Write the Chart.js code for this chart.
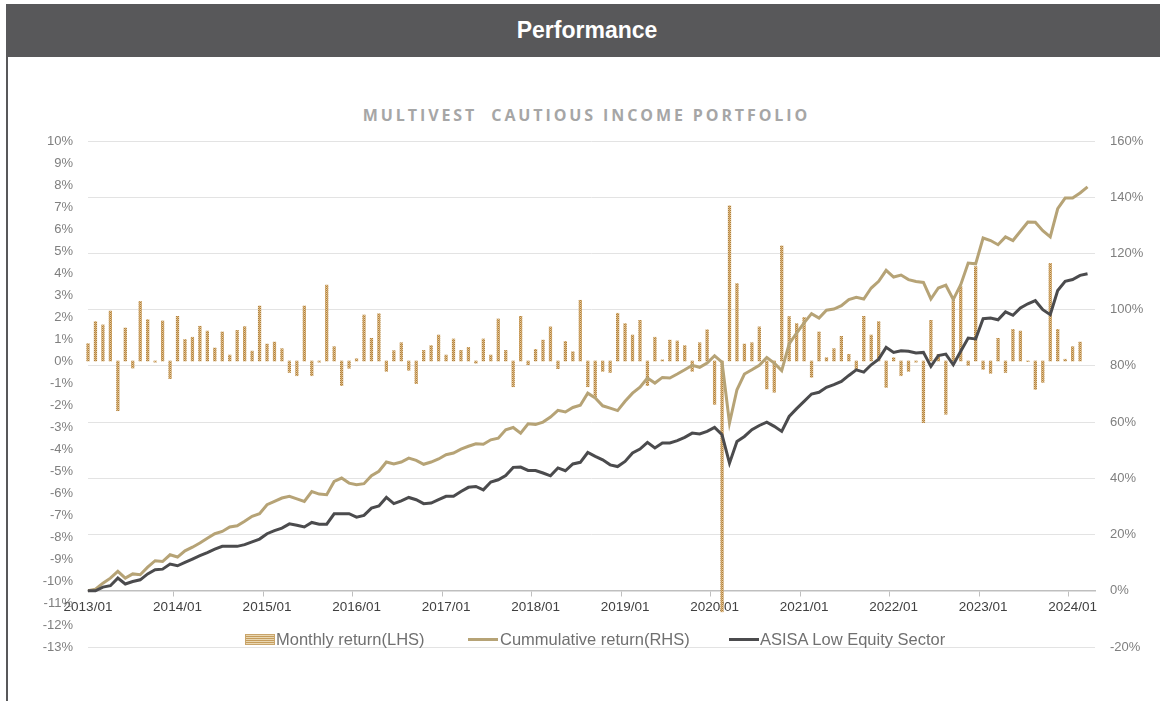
<!DOCTYPE html>
<html>
<head>
<meta charset="utf-8">
<script src="https://cdn.jsdelivr.net/npm/chart.js@4.4.1/dist/chart.umd.min.js"></script>
<style>
    html, body { margin: 0; padding: 0; background: #fff; }
    body { width: 1165px; height: 701px; position: relative; overflow: hidden; font-family: "Liberation Sans", Arial, sans-serif; }
    .header { position: absolute; left: 6px; top: 4px; width: 1154px; height: 53px; background: #58585a;
              color: #fff; font-weight: bold; font-size: 23px; line-height: 53px; text-align: center; text-indent: 8px; }
    .side { position: absolute; left: 6px; top: 4px; width: 2px; height: 697px; background: #58585a; }
    .title { position: absolute; left: 0; width: 1165px; top: 104px; text-align: center; font-family: "Open Sans", sans-serif;
             font-weight: bold; font-size: 16px; letter-spacing: 2.9px; color: #a6a6a6; text-indent: 8px; }
    #wrap { position: absolute; left: 0; top: 0; width: 1165px; height: 701px; }
    .legend { position: absolute; top: 628px; font-size: 16.5px; color: #707070; line-height: 22px; white-space: nowrap; }
    .legend span { position: absolute; top: 0; }
    .sw { position: absolute; }
</style>
</head>
<body>
<div class="side"></div>
<div class="header">Performance</div>
<div class="title">MULTIVEST&nbsp; CAUTIOUS INCOME PORTFOLIO</div>
<div id="wrap"><canvas id="perfChart"></canvas></div>
<div class="legend" style="left:0">
    <div class="sw" style="left:245px;top:6px;width:28px;height:9px;border:1px solid #c9a56b;background:repeating-linear-gradient(#e9d7b2 0 1px,#c59c5c 1px 2px)"></div>
    <span style="left:276px">Monthly return(LHS)</span>
    <div class="sw" style="left:468px;top:10px;width:30px;height:3px;background:#b6a376"></div>
    <span style="left:500px">Cummulative return(RHS)</span>
    <div class="sw" style="left:729px;top:10px;width:30px;height:3px;background:#4b4b4d"></div>
    <span style="left:760px">ASISA Low Equity Sector</span>
</div>
<script>
// ========================================
// DATA
// ========================================
const startYear = 2013;
const monthCount = 136; // 2013/01 .. 2024/04
const months = [];
for (let i = 0; i < monthCount; i++) {
    const y = startYear + Math.floor(i / 12);
    const m = (i % 12) + 1;
    months.push(y + '/' + (m < 10 ? '0' + m : m));
}

// monthly return, % (left axis)
const monthlyReturn = [
    0.79, 1.79, 1.64, 2.27, -2.26, 1.5, -0.32, 2.71, 1.88, -0.05,
    1.82, -0.8, 2.03, 0.98, 1.08, 1.58, 1.36, 0.59, 1.32, 0.27,
    1.39, 1.56, 0.45, 2.5, 0.77, 0.86, 0.56, -0.52, -0.67, 2.5,
    -0.67, -0.05, 3.45, 0.65, -1.12, -0.33, 0.1, 2.09, 1.03, 2.15,
    -0.47, 0.47, 0.83, -0.42, -1.03, 0.48, 0.7, 1.18, 0.27, 1.0,
    0.48, 0.62, -0.1, 1.0, 0.27, 1.91, 0.48, -1.17, 2.03, -0.17,
    0.53, 0.95, 1.55, -0.35, 0.89, 0.42, 2.76, -1.17, -1.62, -0.47,
    -0.52, 2.17, 1.7, 1.18, 1.85, -1.12, 1.08, 0.05, 0.95, 0.91,
    0.7, -0.47, 0.83, 1.42, -1.97, -11.4, 7.05, 3.52, 0.77, 0.83,
    1.55, -1.27, -1.42, 5.23, 2.02, 1.7, 1.98, -0.74, 1.32, 0.15,
    0.56, 1.12, 0.3, -0.38, 2.03, 1.18, 1.79, -1.2, 0.15, -0.67,
    -0.47, -0.05, -2.8, 1.85, 0.3, -2.42, 2.77, 3.38, -0.2, 4.29,
    -0.38, -0.56, 1.03, -0.52, 1.44, 1.36, -0.03, -1.29, -0.97, 4.44,
    1.44, 0.08, 0.65, 0.86
];

// cumulative return, % (right axis)
const cumulativeReturn = [
    0, 0.6, 2.7, 4.5, 6.9, 4.5, 6.0, 5.7, 8.4, 10.7,
    10.4, 12.8, 12.0, 14.2, 15.5, 17.0, 18.7, 20.3, 21.1, 22.7,
    23.1, 24.7, 26.5, 27.4, 30.6, 31.8, 33.0, 33.6, 32.7, 31.8,
    35.3, 34.4, 34.2, 38.9, 40.1, 38.3, 37.7, 38.1, 40.9, 42.5,
    45.8, 45.1, 45.8, 47.2, 46.4, 45.0, 45.8, 46.9, 48.4, 49.0,
    50.4, 51.4, 52.3, 52.1, 53.7, 54.3, 57.3, 58.1, 56.1, 59.4,
    59.2, 60.0, 61.8, 64.2, 63.6, 65.2, 66.0, 70.3, 68.6, 65.8,
    65.0, 64.1, 67.4, 70.3, 72.4, 75.7, 73.9, 75.9, 75.7, 77.1,
    78.6, 80.2, 79.5, 81.0, 83.6, 81.3, 59.7, 71.5, 77.1, 78.6,
    80.2, 83.0, 81.0, 78.3, 87.8, 91.7, 95.3, 98.6, 97.0, 99.8,
    100.2, 101.4, 103.6, 104.4, 103.8, 107.7, 110.1, 114.0, 111.6, 112.3,
    110.7, 110.0, 109.7, 103.8, 107.7, 108.7, 103.6, 108.9, 116.6, 116.3,
    125.5, 124.6, 123.1, 125.9, 124.6, 127.9, 131.2, 131.1, 128.1, 125.9,
    135.9, 139.7, 139.7, 141.5, 143.7
];

// ASISA Low Equity sector, % (right axis)
const asisaLowEquity = [
    0, 0, 1.3, 1.8, 4.5, 2.4, 3.3, 3.9, 6.0, 7.5,
    7.7, 9.5, 8.9, 10.1, 11.3, 12.5, 13.6, 14.8, 15.8, 15.8,
    15.8, 16.4, 17.4, 18.4, 20.3, 21.4, 22.3, 23.8, 23.3, 22.7,
    24.3, 23.7, 23.7, 27.4, 27.4, 27.4, 26.2, 26.8, 29.4, 30.2,
    33.2, 31.0, 32.0, 33.2, 32.4, 31.0, 31.2, 32.4, 33.6, 33.6,
    35.3, 36.8, 37.1, 35.9, 38.7, 39.5, 41.0, 43.9, 44.0, 42.8,
    42.8, 41.9, 40.9, 43.7, 42.7, 45.1, 45.7, 49.2, 47.8, 46.6,
    44.8, 44.2, 46.0, 49.0, 50.4, 52.8, 50.8, 52.6, 52.6, 53.4,
    54.6, 56.1, 55.8, 56.7, 58.1, 55.5, 45.4, 53.1, 54.9, 57.3,
    58.8, 60.0, 58.5, 56.7, 62.0, 64.8, 67.4, 70.0, 70.6, 72.4,
    73.3, 74.5, 76.6, 78.6, 77.8, 80.4, 82.4, 86.6, 84.8, 85.4,
    85.2, 84.6, 84.8, 79.8, 83.7, 84.2, 80.4, 85.2, 89.9, 89.6,
    96.8, 97.0, 96.4, 99.2, 98.0, 100.6, 102.1, 103.2, 100.0, 98.2,
    106.8, 110.1, 110.7, 112.2, 112.8
];

const leftTicks = { min: -13, max: 10, step: 1 };
const rightTicks = { min: -20, max: 160, step: 20 };

// ========================================
// BAR PATTERN (dotted gold fill)
// ========================================
const pc = document.createElement('canvas');
pc.width = 2; pc.height = 2;
const pctx = pc.getContext('2d');
pctx.fillStyle = '#b07f3b'; pctx.fillRect(0, 0, 1, 1);
pctx.fillStyle = '#d4ad74'; pctx.fillRect(1, 0, 1, 1);
pctx.fillStyle = '#e6cda2'; pctx.fillRect(0, 1, 1, 1);
pctx.fillStyle = '#c29452'; pctx.fillRect(1, 1, 1, 1);

const ctx = document.getElementById('perfChart').getContext('2d');
const barPattern = ctx.createPattern(pc, 'repeat');

const axisFont = { family: '"Liberation Sans", Arial, sans-serif', size: 13 };

// ========================================
// CHART
// ========================================
new Chart(ctx, {
    type: 'bar',
    data: {
        labels: months,
        datasets: [
            {
                type: 'bar',
                label: 'Monthly return(LHS)',
                data: monthlyReturn,
                yAxisID: 'y',
                backgroundColor: barPattern,
                barThickness: 2.6,
                order: 3,
                clip: false
            },
            {
                type: 'line',
                label: 'Cummulative return(RHS)',
                data: cumulativeReturn,
                yAxisID: 'yR',
                borderColor: '#b6a376',
                borderWidth: 3,
                pointRadius: 0,
                tension: 0,
                order: 2
            },
            {
                type: 'line',
                label: 'ASISA Low Equity Sector',
                data: asisaLowEquity,
                yAxisID: 'yR',
                borderColor: '#4b4b4d',
                borderWidth: 3,
                pointRadius: 0,
                tension: 0,
                order: 1
            }
        ]
    },
    options: {
        responsive: true,
        maintainAspectRatio: false,
        animation: false,
        layout: { padding: { top: 141, bottom: 54, left: 0, right: 0 } },
        plugins: {
            legend: { display: false },
            tooltip: { enabled: false }
        },
        scales: {
            x: {
                type: 'category',
                offset: false,
                position: { yR: 0 },
                grid: {
                    drawOnChartArea: false,
                    drawTicks: true,
                    tickLength: 5,
                    lineWidth: 1,
                    color: (c) => (c.index % 12 === 0 ? '#bfbfbf' : 'rgba(0,0,0,0)')
                },
                border: { display: true, color: '#bfbfbf', width: 1.5 },
                ticks: {
                    autoSkip: false,
                    maxRotation: 0,
                    padding: 3,
                    color: '#404040',
                    font: { family: axisFont.family, size: 13.5 },
                    callback: (v, i) => (i % 12 === 0 ? months[i] : '')
                }
            },
            y: {
                position: 'left',
                min: leftTicks.min,
                max: leftTicks.max,
                grid: { display: false },
                border: { display: false },
                ticks: {
                    stepSize: leftTicks.step,
                    padding: 7,
                    color: '#7f7f7f',
                    font: axisFont,
                    callback: (v) => v + '%'
                },
                afterFit: (s) => { s.width = 88; }
            },
            yR: {
                position: 'right',
                min: rightTicks.min,
                max: rightTicks.max,
                grid: { color: '#e3e3e3', lineWidth: 1, drawTicks: false },
                border: { display: false },
                ticks: {
                    stepSize: rightTicks.step,
                    padding: 15,
                    color: '#7f7f7f',
                    font: axisFont,
                    callback: (v) => v + '%'
                },
                afterFit: (s) => { s.width = 70; }
            }
        }
    }
});
</script>
</body>
</html>
